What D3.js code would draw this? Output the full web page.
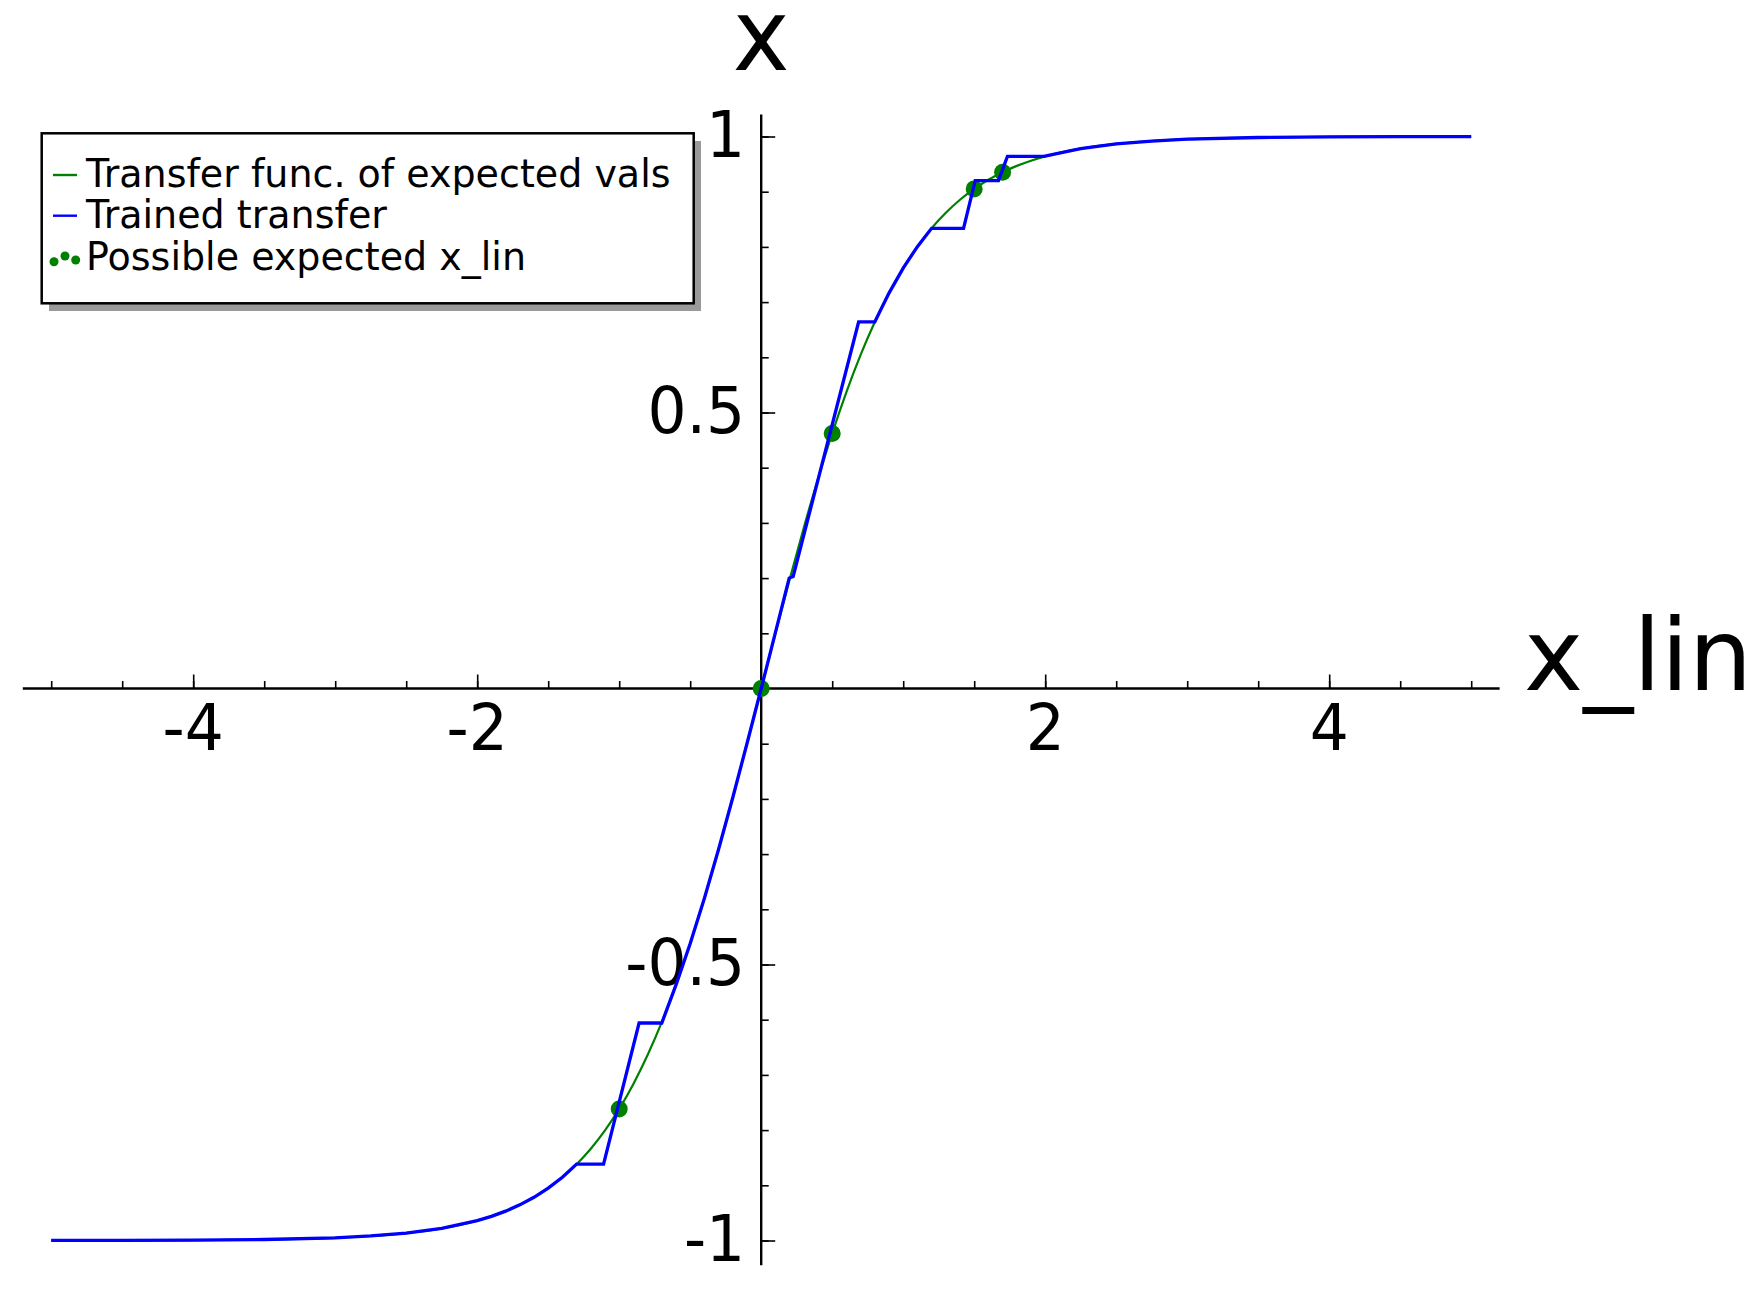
<!DOCTYPE html>
<html>
<head>
<meta charset="utf-8">
<script src="https://cdn.jsdelivr.net/npm/d3@7"></script>
<style>
  body { margin: 0; background: #fff; }
  text { font-family: "DejaVu Sans", sans-serif; fill: #000; }
</style>
</head>
<body>
<div id="chart"></div>
<script>
// Transfer func. of expected vals
const greenX = [-5, -4.5, -4, -3.5, -3, -2.75, -2.5, -2.25, -2, -1.9, -1.8, -1.7, -1.6, -1.5, -1.4, -1.3, -1.2, -1.1, -1, -0.9, -0.8, -0.7, -0.6, -0.5, -0.4, -0.3, -0.2, -0.1,
  0, 0.1, 0.2, 0.3, 0.4, 0.5, 0.6, 0.7, 0.8, 0.9, 1, 1.1, 1.2, 1.3, 1.4, 1.5, 1.6, 1.7, 1.8, 1.9, 2, 2.25, 2.5, 2.75, 3, 3.5, 4, 4.5, 5];
const greenY = [-0.9999, -0.9998, -0.9993, -0.9982, -0.9951, -0.9918, -0.9866, -0.978, -0.964, -0.9562, -0.9468, -0.9354, -0.9217, -0.9051, -0.8854, -0.8617, -0.8337, -0.8005, -0.7616, -0.7163, -0.664, -0.6044, -0.537, -0.4621, -0.3799, -0.2913, -0.1974, -0.0997,
  0, 0.0997, 0.1974, 0.2913, 0.3799, 0.4621, 0.537, 0.6044, 0.664, 0.7163, 0.7616, 0.8005, 0.8337, 0.8617, 0.8854, 0.9051, 0.9217, 0.9354, 0.9468, 0.9562, 0.964, 0.978, 0.9866, 0.9918, 0.9951, 0.9982, 0.9993, 0.9998, 0.9999];

// Trained transfer
const blueX = [-5, -4.5, -4, -3.5, -3, -2.75, -2.5, -2.25, -2, -1.9, -1.8, -1.7, -1.6, -1.5, -1.4, -1.3, -1.11, -0.86, -0.7, -0.6, -0.5, -0.4, -0.3, -0.2, -0.1,
  0, 0.197, 0.225, 0.686, 0.8, 0.9, 1, 1.1, 1.2, 1.425, 1.507, 1.671, 1.734, 1.99, 2.25, 2.5, 2.75, 3, 3.5, 4, 4.5, 5];
const blueY = [-0.9999, -0.9998, -0.9993, -0.9982, -0.9951, -0.9918, -0.9866, -0.978, -0.964, -0.9562, -0.9468, -0.9354, -0.9217, -0.9051, -0.8854, -0.8617, -0.8617, -0.606, -0.606, -0.537, -0.4621, -0.3799, -0.2913, -0.1974, -0.0997,
  0, 0.2, 0.203, 0.664, 0.664, 0.7163, 0.7616, 0.8005, 0.8337, 0.8337, 0.92, 0.92, 0.964, 0.964, 0.978, 0.9866, 0.9918, 0.9951, 0.9982, 0.9993, 0.9998, 0.9999];

// Possible expected x_lin
const pointX = [-1, 0, 0.5, 1.5, 1.7];
const pointY = [-0.7616, 0, 0.4621, 0.9051, 0.9354];

// Ticks
const xMajor = [-4, -2, 2, 4];
const xMinor = d3.range(-5, 5.01, 0.5);
const yMajor = [-1, -0.5, 0.5, 1];
const yMinor = d3.range(-10, 11).map(d => d / 10);
const xTickLabels = ["-4", "-2", "2", "4"];
const yTickLabels = ["-1", "-0.5", "0.5", "1"];

const legendLabels = ["Transfer func. of expected vals", "Trained transfer", "Possible expected x_lin"];

const w = 1761;
const h = 1293;
const squeeze = 0.96;

const xScale = d3.scaleLinear().domain([-5, 5]).range([51.2, 1471.2]);
const yScale = d3.scaleLinear().domain([-1, 1]).range([1240.5, 136.5]);

const svg = d3
  .select("#chart")
  .append("svg")
  .attr("width", w)
  .attr("height", h);

const green = greenX.map((x, i) => [x, greenY[i]]);
const blue = blueX.map((x, i) => [x, blueY[i]]);
const pts = pointX.map((x, i) => [x, pointY[i]]);

const line = d3.line().x(d => xScale(d[0])).y(d => yScale(d[1]));

const x0 = yScale(0);
const y0 = xScale(0);

// x axis line + ticks (ticks stick up)
svg.append("line")
  .attr("x1", xScale(-5.2)).attr("x2", xScale(5.2))
  .attr("y1", x0).attr("y2", x0)
  .attr("stroke", "#000").attr("stroke-width", 2.4);

svg.append("g")
  .attr("transform", `translate(0, ${x0})`)
  .call(d3.axisTop(xScale).tickValues(xMinor).tickSize(7.5).tickFormat(""))
  .call(g => g.select(".domain").remove())
  .call(g => g.selectAll("line").attr("stroke-width", 1.6));

svg.append("g")
  .attr("transform", `translate(0, ${x0})`)
  .call(d3.axisTop(xScale).tickValues(xMajor).tickSize(14).tickFormat(""))
  .call(g => g.select(".domain").remove())
  .call(g => g.selectAll("line").attr("stroke-width", 1.6));

// x labels below
svg.append("g")
  .selectAll("text")
  .data(xMajor)
  .enter()
  .append("text")
  .attr("text-anchor", "middle")
  .attr("font-size", 64)
  .attr("transform", d => `translate(${xScale(d)}, 750) scale(${squeeze}, 1)`)
  .text((d, i) => xTickLabels[i]);

// y axis line + ticks (ticks stick right)
svg.append("line")
  .attr("x1", y0).attr("x2", y0)
  .attr("y1", yScale(1.04)).attr("y2", yScale(-1.045))
  .attr("stroke", "#000").attr("stroke-width", 2.4);

svg.append("g")
  .attr("transform", `translate(${y0}, 0)`)
  .call(d3.axisRight(yScale).tickValues(yMinor).tickSize(7.5).tickFormat(""))
  .call(g => g.select(".domain").remove())
  .call(g => g.selectAll("line").attr("stroke-width", 1.6));

svg.append("g")
  .attr("transform", `translate(${y0}, 0)`)
  .call(d3.axisRight(yScale).tickValues(yMajor).tickSize(14).tickFormat(""))
  .call(g => g.select(".domain").remove())
  .call(g => g.selectAll("line").attr("stroke-width", 1.6));

svg.append("g")
  .selectAll("text")
  .data(yMajor)
  .enter()
  .append("text")
  .attr("text-anchor", "end")
  .attr("font-size", 64)
  .attr("transform", d => `translate(${y0 - 16}, ${yScale(d) + 20}) scale(${squeeze}, 1)`)
  .text((d, i) => yTickLabels[i]);

// axis titles
svg.append("text")
  .attr("text-anchor", "middle")
  .attr("font-size", 100)
  .attr("transform", `translate(${y0}, 70) scale(${squeeze}, 1)`)
  .text("x");

svg.append("text")
  .attr("font-size", 100)
  .attr("transform", `translate(1524, ${x0 + 1})`)
  .text("x_lin");

// series
svg.append("path")
  .datum(green)
  .attr("d", line.curve(d3.curveMonotoneX))
  .attr("fill", "none")
  .attr("stroke", "#008000")
  .attr("stroke-width", 2.2);

svg.selectAll("circle.pt")
  .data(pts)
  .enter()
  .append("circle")
  .attr("class", "pt")
  .attr("cx", d => xScale(d[0]))
  .attr("cy", d => yScale(d[1]))
  .attr("r", 8.5)
  .attr("fill", "#008000");

svg.append("path")
  .datum(blue)
  .attr("d", d3.line().x(d => xScale(d[0])).y(d => yScale(d[1])))
  .attr("fill", "none")
  .attr("stroke", "#0000ff")
  .attr("stroke-width", 3.3)
  .attr("stroke-linejoin", "miter");

// legend
const legend = svg.append("g");

legend.append("rect")
  .attr("x", 49).attr("y", 141)
  .attr("width", 652).attr("height", 170)
  .attr("fill", "#9a9a9a");

legend.append("rect")
  .attr("x", 41.7).attr("y", 133.3)
  .attr("width", 652).attr("height", 170)
  .attr("fill", "#fff")
  .attr("stroke", "#000")
  .attr("stroke-width", 2.5);

const rowBase = [186.7, 228.3, 270];
const handleY = [175, 215.7];
const handleColor = ["#008000", "#0000ff"];

legend.selectAll("line.handle")
  .data(handleY)
  .enter()
  .append("line")
  .attr("class", "handle")
  .attr("x1", 53).attr("x2", 77)
  .attr("y1", d => d).attr("y2", d => d)
  .attr("stroke", (d, i) => handleColor[i])
  .attr("stroke-width", 2.4);

legend.selectAll("circle")
  .data([[54, 261.7], [65, 256], [75.7, 260]])
  .enter()
  .append("circle")
  .attr("cx", d => d[0])
  .attr("cy", d => d[1])
  .attr("r", 4.5)
  .attr("fill", "#008000");

legend.selectAll("text")
  .data(legendLabels)
  .enter()
  .append("text")
  .attr("font-size", 39)
  .attr("transform", (d, i) => `translate(86, ${rowBase[i]}) scale(0.975, 1)`)
  .text(d => d);
</script>
</body>
</html>
